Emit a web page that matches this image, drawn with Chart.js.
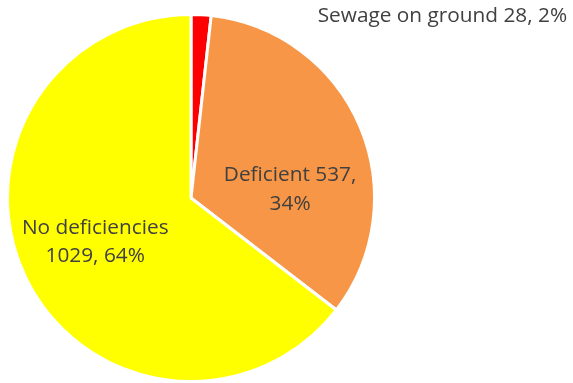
<!DOCTYPE html>
<html>
<head>
<meta charset="utf-8">
<script src="https://cdn.jsdelivr.net/npm/chart.js@4.4.1/dist/chart.umd.min.js"></script>
<style>
  html, body { margin: 0; padding: 0; background: #ffffff; }
  #wrap { width: 573px; height: 383px; position: relative; }
</style>
</head>
<body>
<div id="wrap"><canvas id="c"></canvas></div>
<script>
// Sanitation survey results
const categories = ['Sewage on ground', 'Deficient', 'No deficiencies'];
const counts = [28, 537, 1029];
const percents = [2, 34, 64];
const sliceColors = ['#FF0000', '#F79646', '#FFFF00'];

// Label text lines per slice
const labelLines = [
  [categories[0] + ' ' + counts[0] + ', ' + percents[0] + '%'],
  [categories[1] + ' ' + counts[1] + ',', percents[1] + '%'],
  [categories[2], counts[2] + ', ' + percents[2] + '%']
];
// Label anchor offsets from the pie centre, in units of the radius
const labelOffsets = [
  { dx: 1.37, dy: -0.99 },
  { dx: 0.54, dy: -0.045 },
  { dx: -0.522, dy: 0.24 }
];

const sliceLabels = {
  id: 'sliceLabels',
  afterDatasetsDraw(chart) {
    const ctx = chart.ctx;
    const meta = chart.getDatasetMeta(0);
    ctx.save();
    ctx.font = '20.8px "Open Sans"';
    ctx.fillStyle = '#404040';
    ctx.textAlign = 'center';
    ctx.textBaseline = 'middle';
    meta.data.forEach((arc, i) => {
      const r = arc.outerRadius;
      const cx = arc.x + labelOffsets[i].dx * r;
      const cy = arc.y + labelOffsets[i].dy * r;
      const lines = labelLines[i];
      const lh = 28.5;
      lines.forEach((t, j) => {
        ctx.fillText(t, cx, cy + (j - (lines.length - 1) / 2) * lh);
      });
    });
    ctx.restore();
  }
};

new Chart(document.getElementById('c'), {
  type: 'pie',
  data: {
    labels: categories,
    datasets: [{
      data: counts,
      backgroundColor: sliceColors,
      borderColor: '#ffffff',
      borderWidth: 3
    }]
  },
  options: {
    responsive: true,
    maintainAspectRatio: false,
    animation: false,
    layout: { padding: { top: 13, bottom: -4, left: 4, right: 195 } },
    plugins: {
      legend: { display: false },
      tooltip: { enabled: false }
    }
  },
  plugins: [sliceLabels]
});
</script>
</body>
</html>
